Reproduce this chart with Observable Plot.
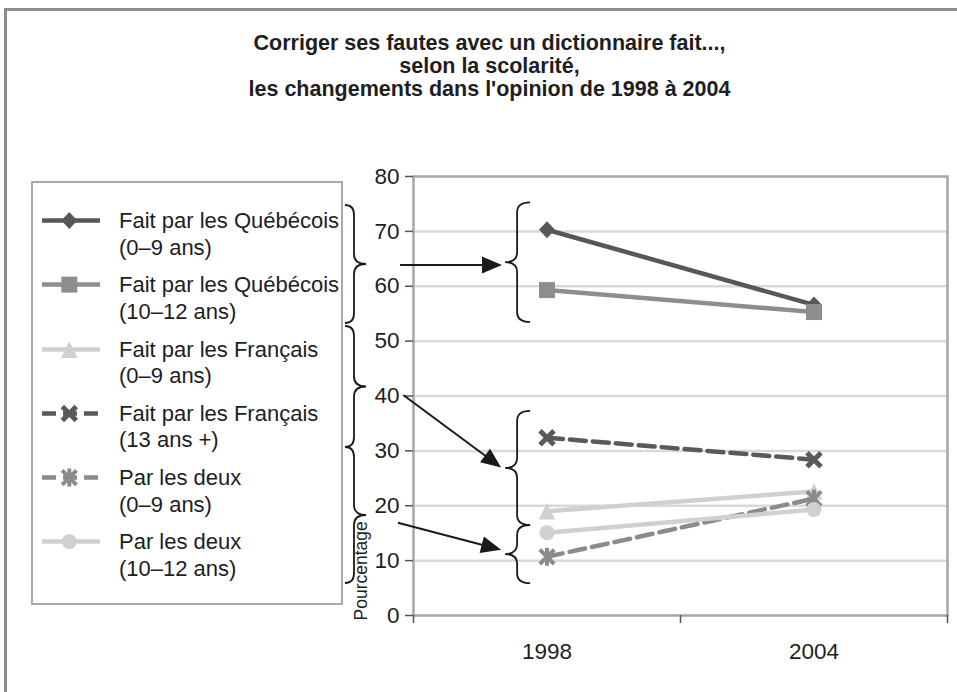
<!DOCTYPE html>
<html><head><meta charset="utf-8">
<script src="https://cdn.jsdelivr.net/npm/d3@7"></script>
<script src="https://cdn.jsdelivr.net/npm/@observablehq/plot@0.6"></script>
<style>
body{margin:0;background:#fff}
#root{position:relative;width:957px;height:692px;overflow:hidden;background:#fff;font-family:"Liberation Sans",Arial,Helvetica,sans-serif;color:#1e1e1e}
#chart{position:absolute;left:0;top:0}
#frame{position:absolute;left:4px;top:8px;width:980px;height:720px;border-left:3px solid #8c8c8c;border-top:3px solid #8c8c8c;pointer-events:none}
#title{position:absolute;left:0;width:979px;top:31.6px;text-align:center;font-weight:bold;font-size:21.5px;line-height:23.3px}
#legend{position:absolute;left:31px;top:181px;width:312px;height:424px;box-sizing:border-box;border:2px solid #a9a9a9}
.entry{position:absolute;left:119px;font-size:22px;line-height:26.5px;white-space:nowrap}
.sw{position:absolute;left:40px}
</style></head>
<body>
<div id="root">
  <div id="chart"></div>
  <div id="legend"></div>
  <div id="title"></div>
  <div id="frame"></div>
</div>
<script>
// ---------- data ----------
const titleLines = [
  "Corriger ses fautes avec un dictionnaire fait...,",
  "selon la scolarité,",
  "les changements dans l'opinion de 1998 à 2004"
];
const years = [1998, 2004];
const legendLine1 = ["Fait par les Québécois", "Fait par les Québécois", "Fait par les Français", "Fait par les Français", "Par les deux", "Par les deux"];
const legendLine2 = ["(0–9 ans)", "(10–12 ans)", "(0–9 ans)", "(13 ans +)", "(0–9 ans)", "(10–12 ans)"];
const quebecois0to9 = [70.3, 56.6];
const quebecois10to12 = [59.3, 55.3];
const francais0to9 = [19.0, 22.6];
const francais13plus = [32.4, 28.4];
const deux0to9 = [10.7, 21.3];
const deux10to12 = [15.1, 19.3];
const yTicks = [0, 10, 20, 30, 40, 50, 60, 70, 80];
const xBoundaries = [1995, 2001, 2007];
const yLabel = "Pourcentage";

// ---------- styles ----------
const seriesValues = [quebecois0to9, quebecois10to12, francais0to9, francais13plus, deux0to9, deux10to12];
const seriesColors = ["#575757", "#8e8e8e", "#d0d0d0", "#5a5a5a", "#8b8b8b", "#d0d0d0"];
const seriesDash = [null, null, null, "16,7", "16,7", null];
const seriesSymbol = ["diamond", "square", "triangle", "times", "star", "circle"];
const seriesR = [8, 8, 8.3, 7, 7.2, 7.5];
const strokeSymbols = new Set(["times", "star"]);

function makeSymbol(kind) {
  return {
    draw(c, size) {
      const r = Math.sqrt(size / Math.PI);
      if (kind === "diamond") { c.moveTo(0, -r * 1.06); c.lineTo(r, 0); c.lineTo(0, r * 1.06); c.lineTo(-r, 0); c.closePath(); }
      else if (kind === "square") { c.rect(-r, -r, 2 * r, 2 * r); }
      else if (kind === "triangle") { c.moveTo(0, -r); c.lineTo(r, r); c.lineTo(-r, r); c.closePath(); }
      else if (kind === "circle") { c.moveTo(r, 0); c.arc(0, 0, r, 0, 2 * Math.PI); }
      else if (kind === "times") { c.moveTo(-r, -r); c.lineTo(r, r); c.moveTo(-r, r); c.lineTo(r, -r); }
      else if (kind === "star") { c.moveTo(-r, -r); c.lineTo(r, r); c.moveTo(-r, r); c.lineTo(r, -r); c.moveTo(0, -r * 1.25); c.lineTo(0, r * 1.25); }
    }
  };
}

const rows = seriesValues.flatMap((vals, i) => vals.map((v, j) => ({series: i, year: years[j], value: v})));

const seriesMarks = seriesValues.flatMap((vals, i) => {
  const data = rows.filter(d => d.series === i);
  const isStroke = strokeSymbols.has(seriesSymbol[i]);
  return [
    Plot.line(data, {x: "year", y: "value", stroke: seriesColors[i], strokeWidth: 4.5, strokeDasharray: seriesDash[i] || undefined}),
    Plot.dot(data, {
      x: "year", y: "value", r: seriesR[i], symbol: makeSymbol(seriesSymbol[i]),
      fill: isStroke ? "none" : seriesColors[i],
      stroke: isStroke ? seriesColors[i] : "none",
      strokeWidth: isStroke ? (seriesSymbol[i] === "times" ? 5 : 4) : 0
    })
  ];
});

const plot = Plot.plot({
  width: 957, height: 692,
  marginLeft: 413, marginRight: 10, marginTop: 176, marginBottom: 77,
  x: {domain: [1995, 2007]},
  y: {domain: [0, 80]},
  style: {fontFamily: '"Liberation Sans", Arial, sans-serif', fontSize: "22.5px", color: "#1e1e1e", background: "transparent", overflow: "visible"},
  marks: [
    Plot.gridY(yTicks.filter(t => t > 0 && t < 80), {stroke: "#d9d9d9", strokeOpacity: 1, strokeWidth: 2.5}),
    Plot.frame({stroke: "#a6a6a6", strokeWidth: 2.5}),
    Plot.axisY(yTicks, {tickSize: 8, tickPadding: 6, stroke: "#555", strokeWidth: 1.5, label: null, fontSize: 22.5}),
    Plot.axisX(xBoundaries, {tickSize: 8, tickFormat: () => "", label: null, stroke: "#555", strokeWidth: 1.5}),
    Plot.axisX(years, {tickSize: 0, tickPadding: 28, label: null, tickFormat: d => String(d), fontSize: 22.5}),
    ...seriesMarks,
    Plot.text([yLabel], {frameAnchor: "bottom-left", rotate: -90, textAnchor: "start", dx: -47, dy: 5, fontSize: 17.5, fill: "#1e1e1e"})
  ]
});
document.getElementById("chart").appendChild(plot);

// ---------- title ----------
document.getElementById("title").innerHTML = titleLines.join("<br>");

// ---------- legend ----------
const root = document.getElementById("root");
seriesValues.forEach((_, i) => {
  const top = 208.2 + 64.2 * i;
  const e = document.createElement("div");
  e.className = "entry";
  e.style.top = top + "px";
  e.innerHTML = legendLine1[i] + "<br>" + legendLine2[i];
  root.appendChild(e);
  const sw = d3.select(root).append("svg").attr("class", "sw")
    .style("top", top + "px").attr("width", 64).attr("height", 27);
  sw.append("line").attr("x1", 2).attr("x2", 60).attr("y1", 12.6).attr("y2", 12.6)
    .attr("stroke", seriesColors[i]).attr("stroke-width", 4.5)
    .attr("stroke-dasharray", seriesDash[i] ? "14,7" : null);
  const p = d3.path();
  const r = seriesR[i];
  makeSymbol(seriesSymbol[i]).draw(p, Math.PI * r * r);
  const isStroke = strokeSymbols.has(seriesSymbol[i]);
  sw.append("path").attr("d", p.toString()).attr("transform", "translate(29.3,12.6)")
    .attr("fill", isStroke ? "none" : seriesColors[i])
    .attr("stroke", isStroke ? seriesColors[i] : "none")
    .attr("stroke-width", isStroke ? (seriesSymbol[i] === "times" ? 5 : 4) : 0);
});

// ---------- annotations (braces & arrows) ----------
const X = plot.scale("x"), Y = plot.scale("y");
const svg = d3.select(plot);
const ann = svg.append("g").attr("fill", "none").attr("stroke", "#1a1a1a").attr("stroke-width", 1.8);
function bracePath(x0, x1, x2, ya, yb) {
  const ym = (ya + yb) / 2, r = Math.min(10, (yb - ya) / 4);
  return `M${x0},${ya} Q${x1},${ya} ${x1},${ya + r} L${x1},${ym - r} Q${x1},${ym} ${x2},${ym} Q${x1},${ym} ${x1},${ym + r} L${x1},${yb - r} Q${x1},${yb} ${x0},${yb}`;
}
// braces right of the legend (pixel rows of the legend groups)
const legendRight = 343;
const legendBraces = [[205, 323], [326, 447], [447, 583]];
legendBraces.forEach(([a, b]) => ann.append("path").attr("d", bracePath(legendRight + 2, legendRight + 11, legendRight + 23, a, b)));
// braces in the plot, expressed in data units
const braceYear = 1997.07;
const plotBraces = [[75.2, 53.4], [37.2, 16.4], [16.4, 5.8]];
plotBraces.forEach(([a, b]) => {
  const xt = X.apply(braceYear);
  ann.append("path").attr("d", bracePath(xt + 25, xt + 12, xt, Y.apply(a), Y.apply(b)));
});
// arrows, in data units
const arrows = [
  {from: [1994.71, 63.8], to: [1997.0, 63.8]},
  {from: [1994.78, 40.1], to: [1996.98, 26.9]},
  {from: [1994.66, 16.8], to: [1996.98, 11.9]}
];
arrows.forEach(({from, to}) => {
  const x1 = X.apply(from[0]), y1 = Y.apply(from[1]), x2 = X.apply(to[0]), y2 = Y.apply(to[1]);
  const ang = Math.atan2(y2 - y1, x2 - x1), L = 20, W = 8.5;
  const bx = x2 - L * Math.cos(ang), by = y2 - L * Math.sin(ang);
  ann.append("line").attr("x1", x1).attr("y1", y1).attr("x2", bx + 2 * Math.cos(ang)).attr("y2", by + 2 * Math.sin(ang)).attr("stroke-width", 2);
  const px = -Math.sin(ang) * W, py = Math.cos(ang) * W;
  ann.append("path").attr("d", `M${x2},${y2} L${bx + px},${by + py} L${bx - px},${by - py} Z`).attr("fill", "#1a1a1a").attr("stroke", "none");
});
</script>
</body></html>
